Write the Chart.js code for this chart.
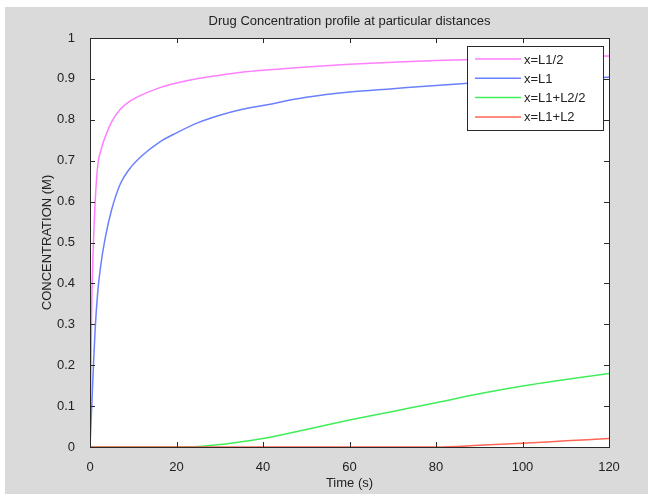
<!DOCTYPE html>
<html>
<head>
<meta charset="utf-8">
<script src="https://cdn.jsdelivr.net/npm/chart.js@4.4.0/dist/chart.umd.min.js"></script>
<style>
  body { margin: 0; background: #fff; }
  #fig { position: absolute; left: 5px; top: 7px; width: 643px; height: 487px; background: #dadada; }
</style>
</head>
<body>
<div id="fig"><canvas id="myChart" width="643" height="487"></canvas></div>
<script>
// time points (s)
var times = [0, 0.4, 0.8, 1.2, 1.8, 2.5, 3.5, 5, 7, 9, 12, 16, 20, 25, 30, 35, 40, 50, 60, 70, 80, 90, 100, 110, 120];
// concentration (M) per position
var halfL1 = [0, 0.35, 0.5, 0.6, 0.69, 0.725, 0.758, 0.795, 0.826, 0.844, 0.861, 0.878, 0.89, 0.901, 0.909, 0.916, 0.921, 0.929, 0.936, 0.941, 0.945, 0.948, 0.951, 0.954, 0.956];
var atL1 = [0, 0.1, 0.2, 0.29, 0.38, 0.445, 0.51, 0.58, 0.643, 0.678, 0.712, 0.745, 0.768, 0.793, 0.811, 0.825, 0.835, 0.855, 0.868, 0.876, 0.884, 0.891, 0.896, 0.9, 0.904];
var L1halfL2 = [0, 0, 0, 0, 0, 0, 0, 0, 0, 0, 0, 0, 0, 0.001, 0.006, 0.013, 0.021, 0.043, 0.066, 0.087, 0.108, 0.13, 0.149, 0.165, 0.18];
var L1L2 = [0, 0, 0, 0, 0, 0, 0, 0, 0, 0, 0, 0, 0, 0, 0, 0, 0, 0, 0, 0, 0, 0.004, 0.009, 0.015, 0.021];

var seriesNames = ['x=L1/2', 'x=L1', 'x=L1+L2/2', 'x=L1+L2'];
var seriesColors = ['#ff7fff', '#6a80ff', '#40ee5a', '#ff6655'];
var xTickLabels = ['0', '20', '40', '60', '80', '100', '120'];
var yTickLabels = ['0', '0.1', '0.2', '0.3', '0.4', '0.5', '0.6', '0.7', '0.8', '0.9', '1'];

function pts(ys) {
  return times.map(function (t, i) { return { x: t, y: ys[i] }; });
}

var font = '"Liberation Sans", Arial, sans-serif';

var frame = {
  id: 'frame',
  beforeDatasetsDraw: function (chart) {
    var c = chart.ctx, a = chart.chartArea;
    c.save();
    c.fillStyle = '#fff';
    c.fillRect(a.left, a.top, a.right - a.left, a.bottom - a.top);
    c.restore();
  },
  afterDatasetsDraw: function (chart) {
    var c = chart.ctx, a = chart.chartArea;
    var xs = chart.scales.x, ys = chart.scales.y;
    c.save();
    c.strokeStyle = '#2a2a2a';
    c.lineWidth = 1;
    c.strokeRect(a.left + 0.5, a.top + 0.5, a.right - a.left, a.bottom - a.top);
    c.beginPath();
    xs.ticks.forEach(function (t) {
      var px = Math.round(xs.getPixelForValue(t.value)) + 0.5;
      c.moveTo(px, a.bottom); c.lineTo(px, a.bottom - 5);
      c.moveTo(px, a.top); c.lineTo(px, a.top + 5);
    });
    ys.ticks.forEach(function (t) {
      var py = Math.round(ys.getPixelForValue(t.value)) + 0.5;
      c.moveTo(a.left, py); c.lineTo(a.left + 5, py);
      c.moveTo(a.right, py); c.lineTo(a.right - 5, py);
    });
    c.stroke();

    // texts
    c.fillStyle = '#222';
    c.textAlign = 'center';
    c.textBaseline = 'middle';
    c.font = '13px ' + font;
    c.fillText('Drug Concentration profile at particular distances', (a.left + a.right) / 2, 14);
    c.fillText('Time (s)', (a.left + a.right) / 2, 476);
    c.save();
    c.translate(42, (a.top + a.bottom) / 2);
    c.rotate(-Math.PI / 2);
    c.fillText('CONCENTRATION (M)', 0, 0);
    c.restore();

    // legend box
    var lx = 462, ly = 39, lw = 136, lh = 84;
    c.fillStyle = '#fff';
    c.fillRect(lx, ly, lw, lh);
    c.strokeStyle = '#2a2a2a';
    c.strokeRect(lx + 0.5, ly + 0.5, lw, lh);
    c.textAlign = 'left';
    c.font = '13px ' + font;
    chart.data.datasets.forEach(function (ds, i) {
      var y = ly + 13 + i * 19.3;
      c.strokeStyle = ds.borderColor;
      c.lineWidth = 1.5;
      c.beginPath();
      c.moveTo(lx + 8, y); c.lineTo(lx + 54, y);
      c.stroke();
      c.fillStyle = '#222';
      c.fillText(ds.label, lx + 57, y + 1);
    });
    c.restore();
  }
};

var ctx = document.getElementById('myChart').getContext('2d');
var myChart = new Chart(ctx, {
  type: 'line',
  data: {
    datasets: seriesNames.map(function (name, i) {
      return {
        label: name,
        data: pts([halfL1, atL1, L1halfL2, L1L2][i]),
        borderColor: seriesColors[i],
        borderWidth: 1.5,
        pointRadius: 0,
        cubicInterpolationMode: 'monotone',
        order: 4 - i
      };
    })
  },
  options: {
    responsive: false,
    animation: false,
    devicePixelRatio: 1,
    layout: { padding: { left: 0, top: 31, right: 39, bottom: 0 } },
    plugins: { legend: { display: false }, tooltip: { enabled: false } },
    scales: {
      x: {
        type: 'linear', min: 0, max: 120,
        grid: { display: false }, border: { display: false },
        afterFit: function (s) { s.height = 47; },
        ticks: {
          stepSize: 20, padding: 5, maxRotation: 0, color: '#222',
          font: { family: font, size: 13 },
          callback: function (v, i) { return xTickLabels[i]; }
        }
      },
      y: {
        min: 0, max: 1,
        grid: { display: false }, border: { display: false },
        afterFit: function (s) { s.width = 85; },
        ticks: {
          stepSize: 0.1, padding: 7, color: '#222',
          font: { family: font, size: 13 },
          callback: function (v, i) { return yTickLabels[i]; }
        }
      }
    }
  },
  plugins: [frame]
});
</script>
</body>
</html>
